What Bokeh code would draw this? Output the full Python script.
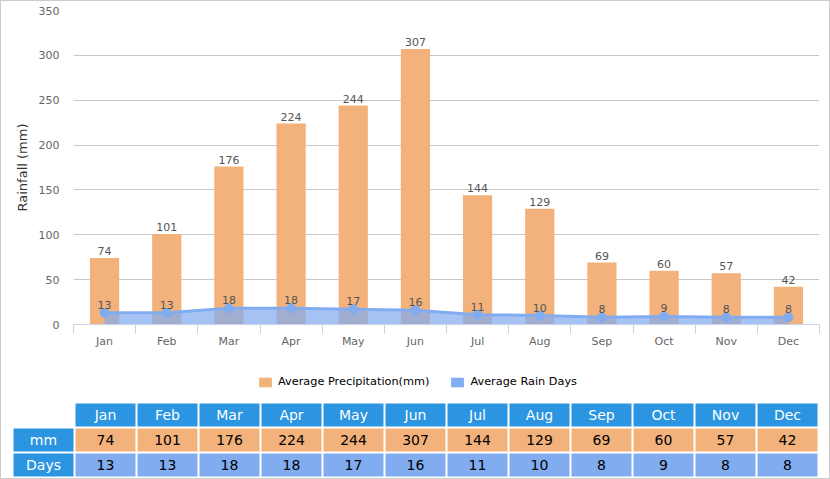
from bokeh.plotting import figure
from bokeh.models import (Range1d, FactorRange, FixedTicker, ColumnDataSource,
                          Legend, LegendItem)
from bokeh.layouts import column
from bokeh.embed import file_html
from bokeh.resources import INLINE
from bokeh.core.properties import value

# ---------------- data ----------------
months = ["Jan", "Feb", "Mar", "Apr", "May", "Jun",
          "Jul", "Aug", "Sep", "Oct", "Nov", "Dec"]
precip_mm = [74, 101, 176, 224, 244, 307, 144, 129, 69, 60, 57, 42]
rain_days = [13, 13, 18, 18, 17, 16, 11, 10, 8, 9, 8, 8]
y_ticks = [0, 50, 100, 150, 200, 250, 300, 350]
row_labels = ["mm", "Days"]
legend_labels = ["Average Precipitation(mm)", "Average Rain Days"]
y_title = "Rainfall (mm)"

# ---------------- style ----------------
ORANGE = "#f3b27b"
BLUE = "#82acf0"
HEAD = "#2b95e1"
FONT = "DejaVu Sans"
W = 828

n = len(months)
xs = [i + 0.5 for i in range(n)]
src = ColumnDataSource(dict(
    x=xs, month=months, mm=precip_mm, days=rain_days,
    mm_txt=[str(v) for v in precip_mm],
    days_txt=[str(v) for v in rain_days],
))

# ---------------- chart ----------------
p1 = figure(width=W, height=355, x_range=Range1d(0, n), y_range=Range1d(0, 350),
            output_backend="svg", toolbar_location=None,
            min_border_left=72, min_border_right=10, min_border_top=9,
            min_border_bottom=32)
p1.frame_align = False
p1.outline_line_color = None
p1.xgrid.visible = False
p1.ygrid.ticker = FixedTicker(ticks=y_ticks)
p1.ygrid.grid_line_color = "#c8c8c8"
p1.ygrid.grid_line_width = 1

bars = p1.vbar(x="x", top="mm", bottom=0, width=0.47, source=src,
               fill_color=ORANGE, line_color=None)
area = p1.varea(x="x", y1=0, y2="days", source=src,
                fill_color=BLUE, fill_alpha=0.72)
p1.line("x", "days", source=src, line_color=BLUE, line_width=3)
p1.scatter("x", "days", source=src, size=9, fill_color=BLUE, line_color=BLUE)

p1.text("x", "mm", text="mm_txt", source=src, text_align="center",
        text_baseline="alphabetic", y_offset=-7, text_font=value(FONT),
        text_font_size="11px", text_color="#555555")
p1.text("x", "days", text="days_txt", source=src, text_align="center",
        text_baseline="alphabetic", y_offset=-8, text_font=value(FONT),
        text_font_size="11px", text_color="#555555")

xa = p1.xaxis[0]
xa.ticker = FixedTicker(ticks=xs, minor_ticks=list(range(n + 1)))
xa.major_label_overrides = {x: m for x, m in zip(xs, months)}
xa.axis_line_color = "#c8d4e6"
xa.major_tick_in = 0
xa.major_tick_out = 0
xa.minor_tick_in = 0
xa.minor_tick_out = 9
xa.minor_tick_line_color = "#c8d4e6"
xa.major_label_standoff = 1
xa.major_label_text_font = FONT
xa.major_label_text_font_size = "11px"
xa.major_label_text_color = "#666666"

ya = p1.yaxis[0]
ya.ticker = FixedTicker(ticks=y_ticks)
ya.axis_line_color = None
ya.major_tick_in = 0
ya.major_tick_out = 0
ya.minor_tick_line_color = None
ya.major_label_standoff = 14
ya.major_label_text_font = FONT
ya.major_label_text_font_size = "11px"
ya.major_label_text_color = "#666666"
ya.axis_label = y_title
ya.axis_label_text_font = FONT
ya.axis_label_text_font_size = "13px"
ya.axis_label_text_font_style = "normal"
ya.axis_label_text_color = "#333333"
ya.axis_label_standoff = 6

# ---------------- table (with legend above it) ----------------
row_pos = {"head": 2.5, row_labels[0]: 1.5, row_labels[1]: 0.5}
cx, cy, ccol, ctxt, tcol = [], [], [], [], []
for m in months:
    cx.append(m); cy.append(row_pos["head"]); ccol.append(HEAD); ctxt.append(m); tcol.append("white")
first_cell = {}
for lab, vals, colr in ((row_labels[0], precip_mm, ORANGE), (row_labels[1], rain_days, BLUE)):
    cx.append("label"); cy.append(row_pos[lab]); ccol.append(HEAD); ctxt.append(lab); tcol.append("white")
    first_cell[lab] = len(cx)
    for m, v in zip(months, vals):
        cx.append(m); cy.append(row_pos[lab]); ccol.append(colr); ctxt.append(str(v)); tcol.append("black")
tsrc = ColumnDataSource(dict(x=cx, y=cy, color=ccol, text=ctxt, tcolor=tcol))

P2_H = 122
p2 = figure(width=W, height=P2_H,
            x_range=FactorRange(factors=["label"] + months, range_padding=0),
            y_range=Range1d(0, (P2_H - 1) / 25),
            output_backend="svg", toolbar_location=None,
            x_axis_location=None, y_axis_location=None,
            min_border_left=11, min_border_right=11, min_border_top=0, min_border_bottom=1)
p2.frame_align = False
p2.outline_line_color = None
p2.grid.visible = False
cells = p2.rect(x="x", y="y", width=60 / 62, height=23 / 25, source=tsrc,
                fill_color="color", line_color=None)
p2.text(x="x", y="y", text="text", source=tsrc, text_color="tcolor",
        text_align="center", text_baseline="middle", text_font=value(FONT),
        text_font_size="14px")

legend = Legend(items=[LegendItem(label=legend_labels[0], renderers=[cells],
                                  index=first_cell[row_labels[0]]),
                       LegendItem(label=legend_labels[1], renderers=[cells],
                                  index=first_cell[row_labels[1]])],
                location=(245, 89), orientation="horizontal",
                glyph_width=16, glyph_height=12, label_standoff=5, spacing=20,
                padding=0, margin=0, border_line_color=None,
                background_fill_alpha=0, label_height=12,
                label_text_font=FONT, label_text_font_size="11.3px",
                label_text_color="#000000")
p2.add_layout(legend, "center")

layout = column(p1, p2, spacing=0, styles={"border": "1px solid #cccccc"})
open("out.html", "w").write(file_html(layout, INLINE))
